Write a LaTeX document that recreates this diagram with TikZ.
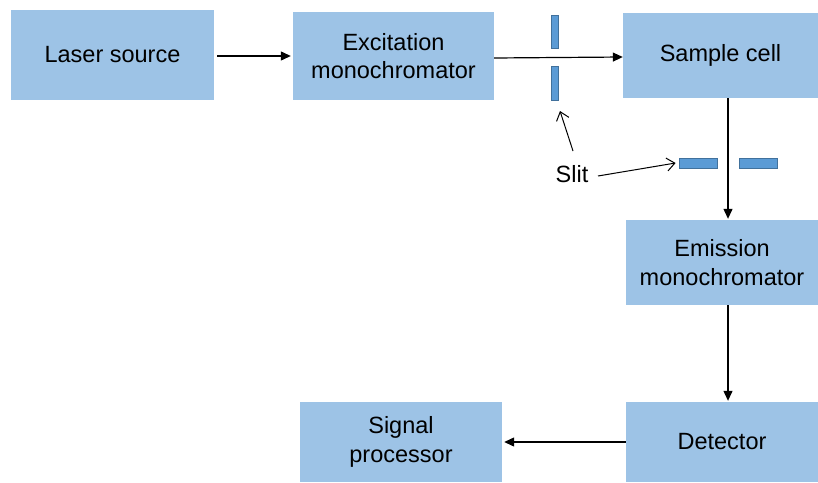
\documentclass[tikz,border=0pt]{standalone}
\usepackage{fontspec}
\setmainfont{Liberation Sans}
\usetikzlibrary{arrows.meta}
\definecolor{boxfill}{HTML}{9DC3E6}
\definecolor{slitfill}{HTML}{5B9BD5}
\definecolor{slitedge}{HTML}{41719C}
\tikzset{
  label text/.style={font=\fontsize{23.5}{28.3}\selectfont},
  box/.style={rectangle, fill=boxfill, draw=none, align=center, inner sep=0pt, label text},
  slitbar/.style={rectangle, fill=slitfill, draw=slitedge, line width=0.8pt, inner sep=0pt},
  flow/.style={-{Triangle[length=10pt,width=9pt]}, line width=1.2pt, black},
  pointer/.style={-{Straight Barb[length=8pt,width=13pt]}, line width=1pt, black},
}
\begin{document}
\begin{tikzpicture}[x=1pt,y=-1pt]
\useasboundingbox (0,0) rectangle (818,482);
% main blocks
\node[box, minimum width=203pt, minimum height=90pt] (laser) at (112.5,55) {Laser source};
\node[box, minimum width=201pt, minimum height=88pt] (exc) at (393.5,56) {Excitation\\monochromator};
\node[box, minimum width=195pt, minimum height=85pt] (sample) at (720.5,55.5) {Sample cell};
\node[box, minimum width=192pt, minimum height=85pt] (emis) at (722,262.5) {Emission\\monochromator};
\node[box, minimum width=192pt, minimum height=80pt] (det) at (722,442) {Detector};
\node[box, minimum width=202pt, minimum height=80pt] (sig) at (401,442) {Signal\\processor};
% slits
\node[slitbar, minimum width=7pt, minimum height=33pt] (sa1) at (555,31.5) {};
\node[slitbar, minimum width=7pt, minimum height=34pt] (sa2) at (555,83) {};
\node[slitbar, minimum width=38pt, minimum height=10pt] (sb1) at (698,163) {};
\node[slitbar, minimum width=38pt, minimum height=10pt] (sb2) at (758,163) {};
\node[label text, inner sep=0pt] (slit) at (572,174) {Slit};
\coordinate (slittip) at (560,111);
\coordinate (slitup) at (573,151);
\coordinate (slitright) at (598,176);
% light path
\draw[flow] ([xshift=3pt,yshift=-1pt]laser.east) -- ([xshift=-2pt]exc.west);
\draw[flow] ([yshift=-2pt]exc.east) -- ([yshift=-1.5pt]sample.west);
\draw[flow] ([xshift=7.5pt]sample.south) -- ([xshift=6pt,yshift=1pt]emis.north);
\draw[flow] ([xshift=6pt]emis.south) -- ([xshift=6pt,yshift=1pt]det.north);
\draw[flow] (det.west) -- ([xshift=2pt]sig.east);
% slit labels
\draw[pointer] (slitup) -- (slittip);
\draw[pointer] (slitright) -- ([xshift=-3pt]sb1.west);
\end{tikzpicture}
\end{document}
